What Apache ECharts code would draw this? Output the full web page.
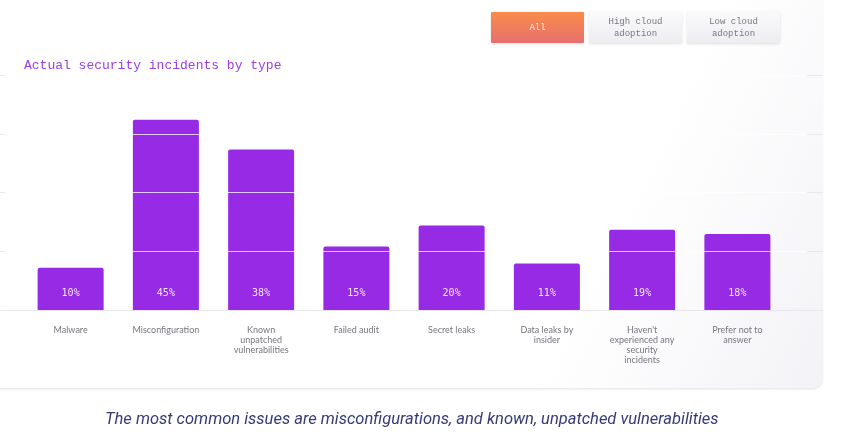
<!DOCTYPE html>
<html>
<head>
<meta charset="utf-8">
<script src="https://cdn.jsdelivr.net/npm/echarts@6/dist/echarts.min.js"></script>
<style>
html,body{margin:0;padding:0;background:#fff;}
#chart{width:851px;height:442px;}
</style>
</head>
<body>
<div id="chart"></div>
<script>
var categories = ["Malware", "Misconfiguration", "Known\nunpatched\nvulnerabilities", "Failed audit", "Secret leaks", "Data leaks by\ninsider", "Haven't\nexperienced any\nsecurity\nincidents", "Prefer not to\nanswer"];
var values = [10, 45, 38, 15, 20, 11, 19, 18];
var titleText = "Actual security incidents by type";
var captionText = "The most common issues are misconfigurations, and known, unpatched vulnerabilities";
var buttonLabels = ["All", "High cloud\nadoption", "Low cloud\nadoption"];

var yMax = 55.6, yInterval = 13.9;

var chart = echarts.init(document.getElementById('chart'), null, {renderer: 'canvas'});

function button(x, label, active) {
  return {
    type: 'group', left: x, top: 12,
    children: [
      {type: 'rect', shape: {x: 0, y: 0, width: 93, height: 31, r: 1},
       style: {
         fill: active ? new echarts.graphic.LinearGradient(0, 0, 0, 1, [{offset: 0, color: '#f98c4a'}, {offset: 1, color: '#e76f70'}])
                      : new echarts.graphic.LinearGradient(0, 0, 0, 1, [{offset: 0, color: '#fafafc'}, {offset: 1, color: '#ededf1'}]),
         shadowBlur: 3, shadowColor: 'rgba(0,0,0,0.12)', shadowOffsetY: 1
       }},
      {type: 'text', x: 46.5, y: 15.5,
       style: {text: label, fill: active ? '#fff2ec' : '#777780', font: '9px "Liberation Mono", monospace',
               align: 'center', verticalAlign: 'middle', lineHeight: 12}}
    ]
  };
}

var option = {
  animation: false,
  backgroundColor: '#ffffff',
  graphic: [
    {type: 'rect', z: -10, shape: {x: -20, y: -20, width: 843, height: 408, r: 10},
     style: {fill: new echarts.graphic.LinearGradient(0, 0, 1, 1, [{offset: 0, color: '#ffffff'}, {offset: 0.72, color: '#ffffff'}, {offset: 1, color: '#f3f3f7'}]),
             stroke: null, shadowBlur: 1.5, shadowColor: 'rgba(60,60,110,0.12)', shadowOffsetY: 1.5}},
    button(491, buttonLabels[0], true),
    button(589, buttonLabels[1], false),
    button(687, buttonLabels[2], false),
    {type: 'text', left: 24, top: 59,
     style: {text: titleText, fill: '#9a3ee6', font: '13px "Liberation Mono", monospace'}},
    {type: 'text', left: 105, top: 411,
     style: {text: captionText, fill: '#363a78', font: 'italic 16.5px Roboto, sans-serif'}}
  ],
  grid: [
    {left: 23, right: 66, top: 75, bottom: 132},
    {left: 0, right: 28, top: 75, bottom: 132}
  ],
  xAxis: [
    {type: 'category', gridIndex: 0, data: categories,
     axisLine: {show: false}, axisTick: {show: false},
     axisLabel: {interval: 0, margin: 15, color: '#75757f', fontFamily: 'Lato, sans-serif', fontSize: 9, lineHeight: 10}},
    {type: 'value', gridIndex: 1, show: false, min: 0, max: 1}
  ],
  yAxis: [
    {type: 'value', gridIndex: 0, min: 0, max: yMax, interval: yInterval, show: false, splitLine: {show: false}},
    {type: 'value', gridIndex: 1, min: 0, max: yMax, interval: yInterval, z: 5, position: 'left',
     axisLine: {show: false}, axisLabel: {show: false},
     axisTick: {show: true, inside: true, length: 5, lineStyle: {color: '#e8e8ee'}},
     splitLine: {show: true, lineStyle: {color: ['#e6e6ec', 'rgba(255,255,255,0.75)', 'rgba(255,255,255,0.75)', 'rgba(255,255,255,0.75)', 'rgba(255,255,255,0.75)'], width: 1}}},
    {type: 'value', gridIndex: 1, min: 0, max: yMax, interval: yInterval, z: 5, position: 'right',
     axisLine: {show: false}, axisLabel: {show: false},
     axisTick: {show: true, inside: true, length: 16, lineStyle: {color: '#e8e8ee'}},
     splitLine: {show: false}}
  ],
  series: [
    {type: 'bar', xAxisIndex: 0, yAxisIndex: 0, data: values, barWidth: 66, z: 2,
     itemStyle: {color: '#962ae5', borderRadius: [2, 2, 0, 0]},
     label: {show: true, position: 'insideBottom', distance: 12, formatter: '{c}%',
             color: '#f3e6ff', fontFamily: '"DejaVu Sans Mono", monospace', fontSize: 10}}
  ]
};
chart.setOption(option);
</script>
</body>
</html>
